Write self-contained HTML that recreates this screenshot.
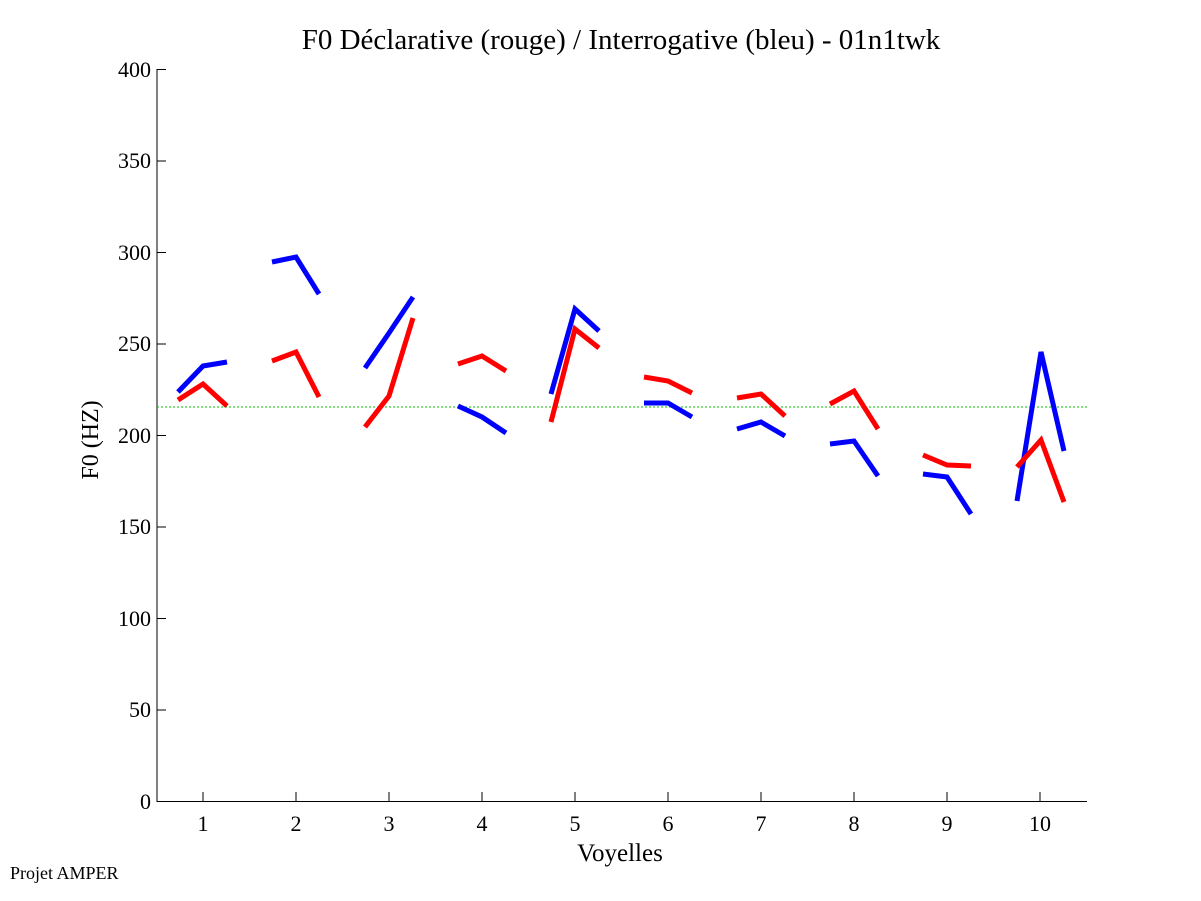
<!DOCTYPE html>
<html><head><meta charset="utf-8"><style>body{margin:0;background:#fff}svg{display:block}</style></head><body>
<svg width="1201" height="901" xmlns="http://www.w3.org/2000/svg" font-family="Liberation Serif, serif">
<rect width="1201" height="901" fill="#fff"/>
<text x="621" y="49" font-size="29" text-anchor="middle">F0 Déclarative (rouge) / Interrogative (bleu) - 01n1twk</text>
<g stroke="#000" stroke-width="1" fill="none">
<line x1="157" y1="69" x2="157" y2="802"/>
<line x1="157" y1="801.5" x2="1087" y2="801.5"/>
<line x1="157" y1="69.5" x2="166" y2="69.5"/>
<line x1="157" y1="161" x2="166" y2="161"/>
<line x1="157" y1="252.5" x2="166" y2="252.5"/>
<line x1="157" y1="344" x2="166" y2="344"/>
<line x1="157" y1="435.5" x2="166" y2="435.5"/>
<line x1="157" y1="527" x2="166" y2="527"/>
<line x1="157" y1="618.5" x2="166" y2="618.5"/>
<line x1="157" y1="710" x2="166" y2="710"/>
<line x1="203" y1="801" x2="203" y2="792"/><line x1="296" y1="801" x2="296" y2="792"/><line x1="389" y1="801" x2="389" y2="792"/><line x1="482" y1="801" x2="482" y2="792"/><line x1="575" y1="801" x2="575" y2="792"/><line x1="668" y1="801" x2="668" y2="792"/><line x1="761" y1="801" x2="761" y2="792"/><line x1="854" y1="801" x2="854" y2="792"/><line x1="947" y1="801" x2="947" y2="792"/><line x1="1040" y1="801" x2="1040" y2="792"/>
</g>
<g font-size="22" text-anchor="end">
<text x="151" y="77">400</text><text x="151" y="168">350</text><text x="151" y="260">300</text><text x="151" y="351">250</text><text x="151" y="443">200</text><text x="151" y="534">150</text><text x="151" y="626">100</text><text x="151" y="717">50</text><text x="151" y="809">0</text>
</g>
<g font-size="22" text-anchor="middle">
<text x="203" y="831">1</text><text x="296" y="831">2</text><text x="389" y="831">3</text><text x="482" y="831">4</text><text x="575" y="831">5</text><text x="668" y="831">6</text><text x="761" y="831">7</text><text x="854" y="831">8</text><text x="947" y="831">9</text><text x="1040" y="831">10</text>
</g>
<text x="620" y="861" font-size="25" text-anchor="middle">Voyelles</text>
<text transform="translate(98,440) rotate(-90)" font-size="24" text-anchor="middle">F0 (HZ)</text>
<text x="10" y="879" font-size="18">Projet AMPER</text>
<line x1="157" y1="407" x2="1087" y2="407" stroke="#00c000" stroke-width="1" stroke-dasharray="2,2"/>
<g fill="none" stroke="#0000ff" stroke-width="5">
<polyline points="178,392 203,366 227,362"/>
<polyline points="272,262 296,257 319,294"/>
<polyline points="365,368 389,333 413,297"/>
<polyline points="458,406 482,417 506,433"/>
<polyline points="551,394 575,309 599,331"/>
<polyline points="644,403 668,403 692,417"/>
<polyline points="737,429 761,422 785,436"/>
<polyline points="830,444 854,441 878,476"/>
<polyline points="923,474 947,477 971,514"/>
<polyline points="1017,501 1041,352 1064,451"/>
</g>
<g fill="none" stroke="#ff0000" stroke-width="5">
<polyline points="178,400 203,384 227,406"/>
<polyline points="272,361 296,352 319,397"/>
<polyline points="365,427 389,396 413,318"/>
<polyline points="458,364 482,356 506,371"/>
<polyline points="551,422 575,329 599,348"/>
<polyline points="644,377 668,381 692,393"/>
<polyline points="737,398 761,394 785,416"/>
<polyline points="830,404 854,391 878,429"/>
<polyline points="923,455 947,465 971,466"/>
<polyline points="1017,467 1041,440 1064,502"/>
</g>
</svg>
</body></html>
